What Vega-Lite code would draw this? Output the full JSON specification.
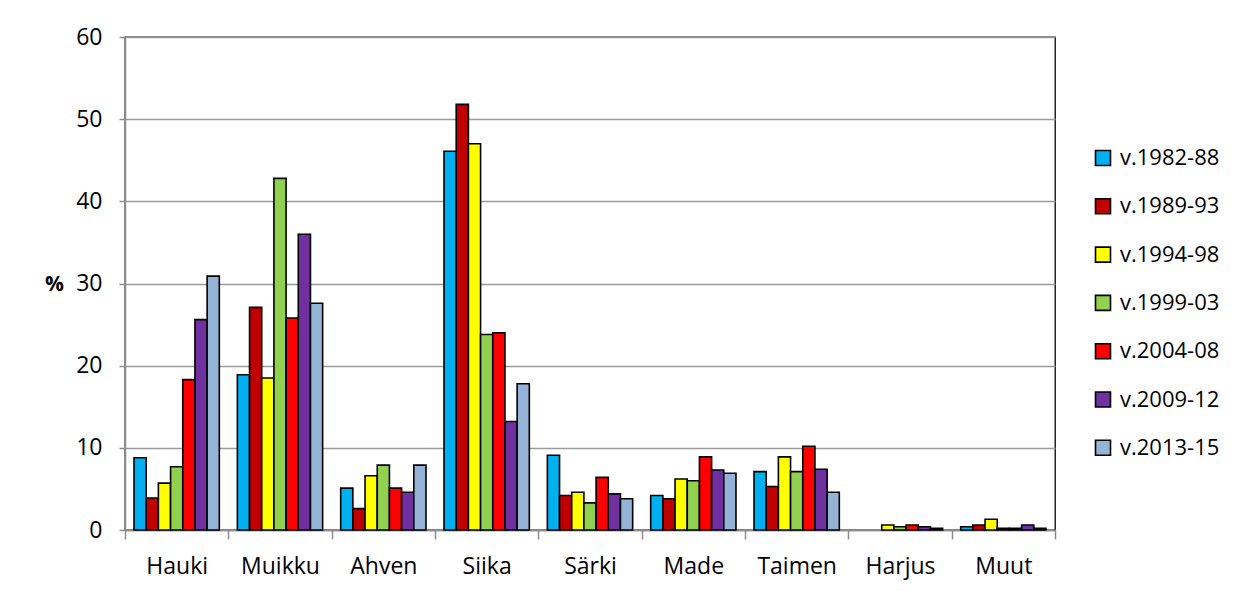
{
  "$schema": "https://vega.github.io/schema/vega-lite/v6.json",
  "autosize": {"type": "none"},
  "width": 930,
  "height": 493,
  "padding": {"left": 125, "top": 37, "right": 197, "bottom": 61},
  "background": "#ffffff",
  "config": {
    "font": "Open Sans",
    "view": {"stroke": "#000000", "strokeWidth": 1.3},
    "axis": {
      "labelFont": "Open Sans",
      "labelFontSize": 23,
      "labelColor": "#000000",
      "domainColor": "#8c8c8c",
      "domainWidth": 1.5,
      "tickColor": "#8c8c8c",
      "tickWidth": 1.5,
      "gridColor": "#9a9a9a",
      "gridWidth": 1.5
    },
    "legend": {
      "labelFont": "Open Sans",
      "labelFontSize": 22,
      "labelColor": "#000000"
    }
  },
  "data": {
    "values": [
      {"laji": "Hauki", "jakso": "v.1982-88", "osuus": 8.8},
      {"laji": "Hauki", "jakso": "v.1989-93", "osuus": 3.9},
      {"laji": "Hauki", "jakso": "v.1994-98", "osuus": 5.7},
      {"laji": "Hauki", "jakso": "v.1999-03", "osuus": 7.7},
      {"laji": "Hauki", "jakso": "v.2004-08", "osuus": 18.3},
      {"laji": "Hauki", "jakso": "v.2009-12", "osuus": 25.6},
      {"laji": "Hauki", "jakso": "v.2013-15", "osuus": 30.9},
      {"laji": "Muikku", "jakso": "v.1982-88", "osuus": 18.9},
      {"laji": "Muikku", "jakso": "v.1989-93", "osuus": 27.1},
      {"laji": "Muikku", "jakso": "v.1994-98", "osuus": 18.5},
      {"laji": "Muikku", "jakso": "v.1999-03", "osuus": 42.8},
      {"laji": "Muikku", "jakso": "v.2004-08", "osuus": 25.8},
      {"laji": "Muikku", "jakso": "v.2009-12", "osuus": 36.0},
      {"laji": "Muikku", "jakso": "v.2013-15", "osuus": 27.6},
      {"laji": "Ahven", "jakso": "v.1982-88", "osuus": 5.1},
      {"laji": "Ahven", "jakso": "v.1989-93", "osuus": 2.6},
      {"laji": "Ahven", "jakso": "v.1994-98", "osuus": 6.6},
      {"laji": "Ahven", "jakso": "v.1999-03", "osuus": 7.9},
      {"laji": "Ahven", "jakso": "v.2004-08", "osuus": 5.1},
      {"laji": "Ahven", "jakso": "v.2009-12", "osuus": 4.6},
      {"laji": "Ahven", "jakso": "v.2013-15", "osuus": 7.9},
      {"laji": "Siika", "jakso": "v.1982-88", "osuus": 46.1},
      {"laji": "Siika", "jakso": "v.1989-93", "osuus": 51.8},
      {"laji": "Siika", "jakso": "v.1994-98", "osuus": 47.0},
      {"laji": "Siika", "jakso": "v.1999-03", "osuus": 23.8},
      {"laji": "Siika", "jakso": "v.2004-08", "osuus": 24.0},
      {"laji": "Siika", "jakso": "v.2009-12", "osuus": 13.2},
      {"laji": "Siika", "jakso": "v.2013-15", "osuus": 17.8},
      {"laji": "Särki", "jakso": "v.1982-88", "osuus": 9.1},
      {"laji": "Särki", "jakso": "v.1989-93", "osuus": 4.2},
      {"laji": "Särki", "jakso": "v.1994-98", "osuus": 4.6},
      {"laji": "Särki", "jakso": "v.1999-03", "osuus": 3.3},
      {"laji": "Särki", "jakso": "v.2004-08", "osuus": 6.4},
      {"laji": "Särki", "jakso": "v.2009-12", "osuus": 4.4},
      {"laji": "Särki", "jakso": "v.2013-15", "osuus": 3.8},
      {"laji": "Made", "jakso": "v.1982-88", "osuus": 4.2},
      {"laji": "Made", "jakso": "v.1989-93", "osuus": 3.8},
      {"laji": "Made", "jakso": "v.1994-98", "osuus": 6.2},
      {"laji": "Made", "jakso": "v.1999-03", "osuus": 6.0},
      {"laji": "Made", "jakso": "v.2004-08", "osuus": 8.9},
      {"laji": "Made", "jakso": "v.2009-12", "osuus": 7.3},
      {"laji": "Made", "jakso": "v.2013-15", "osuus": 6.9},
      {"laji": "Taimen", "jakso": "v.1982-88", "osuus": 7.1},
      {"laji": "Taimen", "jakso": "v.1989-93", "osuus": 5.3},
      {"laji": "Taimen", "jakso": "v.1994-98", "osuus": 8.9},
      {"laji": "Taimen", "jakso": "v.1999-03", "osuus": 7.1},
      {"laji": "Taimen", "jakso": "v.2004-08", "osuus": 10.2},
      {"laji": "Taimen", "jakso": "v.2009-12", "osuus": 7.4},
      {"laji": "Taimen", "jakso": "v.2013-15", "osuus": 4.6},
      {"laji": "Harjus", "jakso": "v.1994-98", "osuus": 0.6},
      {"laji": "Harjus", "jakso": "v.1999-03", "osuus": 0.4},
      {"laji": "Harjus", "jakso": "v.2004-08", "osuus": 0.6},
      {"laji": "Harjus", "jakso": "v.2009-12", "osuus": 0.4},
      {"laji": "Harjus", "jakso": "v.2013-15", "osuus": 0.2},
      {"laji": "Muut", "jakso": "v.1982-88", "osuus": 0.4},
      {"laji": "Muut", "jakso": "v.1989-93", "osuus": 0.6},
      {"laji": "Muut", "jakso": "v.1994-98", "osuus": 1.3},
      {"laji": "Muut", "jakso": "v.1999-03", "osuus": 0.2},
      {"laji": "Muut", "jakso": "v.2004-08", "osuus": 0.2},
      {"laji": "Muut", "jakso": "v.2009-12", "osuus": 0.6},
      {"laji": "Muut", "jakso": "v.2013-15", "osuus": 0.2}
    ]
  },
  "mark": {"type": "bar", "stroke": "#000000", "strokeWidth": 1.6},
  "encoding": {
    "x": {
      "field": "laji",
      "type": "nominal",
      "sort": ["Hauki", "Muikku", "Ahven", "Siika", "Särki", "Made", "Taimen", "Harjus", "Muut"],
      "scale": {"paddingInner": 0, "paddingOuter": 0},
      "axis": {
        "title": null,
        "labelAngle": 0,
        "tickBand": "extent",
        "tickSize": 9,
        "labelPadding": 16,
        "grid": false
      }
    },
    "xOffset": {
      "field": "jakso",
      "type": "nominal",
      "sort": ["v.1982-88", "v.1989-93", "v.1994-98", "v.1999-03", "v.2004-08", "v.2009-12", "v.2013-15"],
      "scale": {"paddingInner": 0, "paddingOuter": 0.74}
    },
    "y": {
      "field": "osuus",
      "type": "quantitative",
      "scale": {"domain": [0, 60], "nice": false},
      "axis": {
        "values": [0, 10, 20, 30, 40, 50, 60],
        "tickSize": 6,
        "labelPadding": 17,
        "title": "%",
        "titleAngle": 0,
        "titleFont": "Open Sans",
        "titleFontSize": 21,
        "titleFontWeight": "bold",
        "titleColor": "#000000",
        "titleAlign": "center",
        "titleBaseline": "middle",
        "titleX": -71,
        "titleY": 247
      }
    },
    "color": {
      "field": "jakso",
      "type": "nominal",
      "sort": ["v.1982-88", "v.1989-93", "v.1994-98", "v.1999-03", "v.2004-08", "v.2009-12", "v.2013-15"],
      "scale": {
        "domain": ["v.1982-88", "v.1989-93", "v.1994-98", "v.1999-03", "v.2004-08", "v.2009-12", "v.2013-15"],
        "range": ["#00B0F0", "#C00000", "#FFFF00", "#92D050", "#FF0000", "#7030A0", "#95B3D7"]
      },
      "legend": {
        "title": null,
        "orient": "none",
        "legendX": 967,
        "legendY": 110,
        "padding": 0,
        "symbolType": "square",
        "symbolSize": 225,
        "symbolStrokeColor": "#000000",
        "symbolStrokeWidth": 1.6,
        "symbolOpacity": 1,
        "labelOffset": 6,
        "rowPadding": 26.3
      }
    }
  }
}
